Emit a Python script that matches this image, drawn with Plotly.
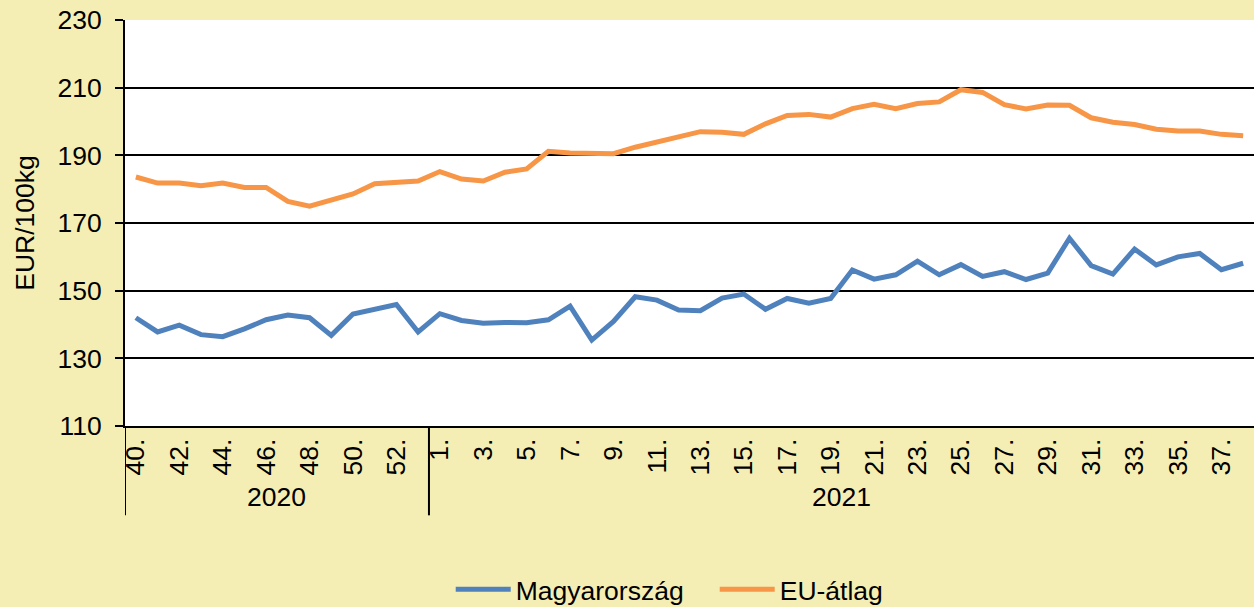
import plotly.graph_objects as go

weeks_2020 = list(range(40, 54))
weeks_2021 = list(range(1, 39))
categories = [f"{w}." for w in weeks_2020] + [f"{w}." for w in weeks_2021]
tick_labels = [f"{w}." for w in range(40, 54, 2)] + [f"{w}." for w in range(1, 39, 2)]
years = ["2020", "2021"]

magyarorszag = [142.0, 137.8, 139.8, 137.0, 136.4, 138.7, 141.4, 142.8, 142.0, 136.8,
                143.1, 144.5, 145.9, 137.8,
                143.2, 141.2, 140.4, 140.6, 140.5, 141.4, 145.4, 135.4, 140.9, 148.2,
                147.2, 144.3, 144.1, 147.8, 149.0, 144.5, 147.7, 146.3, 147.7, 156.1,
                153.4, 154.7, 158.7, 154.7, 157.7, 154.2, 155.6, 153.3, 155.2, 165.5,
                157.4, 154.9, 162.3, 157.6, 160.0, 161.0, 156.2, 158.1]
eu_atlag = [183.6, 181.8, 181.8, 181.0, 181.8, 180.5, 180.5, 176.4, 175.0, 176.8,
            178.6, 181.6, 182.0, 182.4,
            185.2, 183.0, 182.4, 185.0, 186.0, 191.2, 190.7, 190.5, 190.5, 192.4,
            193.9, 195.6, 197.0, 196.8, 196.2, 199.3, 201.8, 202.1, 201.3, 203.8,
            205.1, 203.8, 205.3, 205.8, 209.4, 208.6, 205.0, 203.7, 204.9, 204.8,
            201.1, 199.8, 199.1, 197.7, 197.2, 197.2, 196.2, 195.8]

FONT = "Liberation Sans, Arial, sans-serif"
FS = 26.5
BG = "#F5EEB4"

fig = go.Figure()
fig.add_trace(go.Scatter(x=categories, y=magyarorszag, mode="lines", name="Magyarország",
                         line=dict(color="#4F81BD", width=5)))
fig.add_trace(go.Scatter(x=categories, y=eu_atlag, mode="lines", name="EU-átlag",
                         line=dict(color="#F79646", width=5)))

n2020 = len(weeks_2020)
n_all = len(categories)
sep_positions = [-0.5, n2020 - 0.5]
for xp in sep_positions:
    fig.add_shape(type="line", xref="x", yref="paper", x0=xp, x1=xp, y0=0, y1=-0.22,
                  line=dict(color="black", width=2))

year_centers = [(n2020 - 1) / 2, (n2020 - 0.5 + n_all - 0.5) / 2]
for yr, xc in zip(years, year_centers):
    fig.add_annotation(x=xc, y=-0.175, xref="x", yref="paper", text=yr, showarrow=False,
                       font=dict(size=FS, color="black", family=FONT), yanchor="middle")

fig.update_layout(
    width=1254, height=607,
    margin=dict(l=125, r=0, t=20, b=181, autoexpand=False),
    paper_bgcolor=BG, plot_bgcolor="white",
    font=dict(family=FONT, size=FS, color="black"),
    showlegend=True,
    legend=dict(orientation="h", x=0.2885, xanchor="left", y=-0.403, yanchor="middle",
                font=dict(size=FS, family=FONT, color="black"), bgcolor="rgba(0,0,0,0)",
                itemwidth=55, entrywidth=194),
    xaxis=dict(type="category", categoryorder="array", categoryarray=categories,
               range=[-0.5, n_all - 0.5], tickmode="array", tickvals=tick_labels,
               ticktext=tick_labels, tickangle=-90, showgrid=False, ticks="",
               showline=True, linecolor="black", linewidth=2,
               tickfont=dict(size=FS, family=FONT, color="black")),
    yaxis=dict(range=[110, 230], tickvals=[110, 130, 150, 170, 190, 210, 230],
               showgrid=True, gridcolor="black", gridwidth=2, zeroline=False,
               showline=True, linecolor="black", linewidth=2,
               ticks="outside", ticklen=8, tickcolor="black", tickwidth=2,
               ticklabelstandoff=8,
               title=dict(text="EUR/100kg", font=dict(size=FS, family=FONT, color="black"),
                          standoff=15),
               tickfont=dict(size=FS, family=FONT, color="black")),
)

fig.write_html("out.html", config={"displayModeBar": False},
               post_script="document.body.style.margin='0';document.body.style.background='" + BG + "';")
